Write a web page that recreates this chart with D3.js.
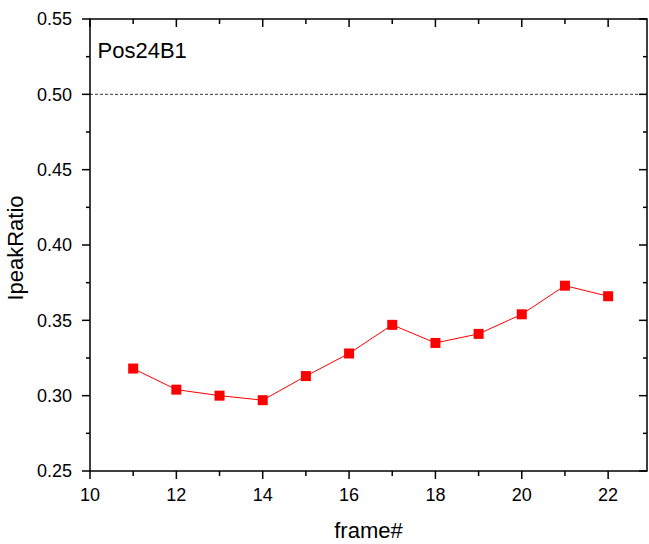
<!DOCTYPE html>
<html><head><meta charset="utf-8">
<script src="https://cdn.jsdelivr.net/npm/d3@7"></script>
<style>body{margin:0;background:#fff}svg{display:block}text{font-family:Arial,"Liberation Sans",sans-serif}</style>
</head><body>
<svg id="c" width="649" height="544"></svg>
<script>
const frames = [11,12,13,14,15,16,17,18,19,20,21,22];
const ratios = [0.318,0.304,0.300,0.297,0.313,0.328,0.347,0.335,0.341,0.354,0.373,0.366];
const xTicks = [10,12,14,16,18,20,22];
const yTicks = [0.25,0.30,0.35,0.40,0.45,0.50,0.55];
const refLine = 0.50;
const sampleLabel = "Pos24B1";

const svg = d3.select("#c");
const L=90, R=647, T=19, B=471;
const x = d3.scaleLinear().domain([10,22.9]).range([L,R]);
const y = d3.scaleLinear().domain([0.25,0.55]).range([B,T]);

const xMinor = d3.range(11,23,2);
const yMinor = d3.range(0.275,0.55,0.05);

const g = svg.append("g");
// frame
g.append("rect").attr("x",L).attr("y",T).attr("width",R-L).attr("height",B-T)
 .attr("fill","none").attr("stroke","#000").attr("stroke-width",1.5);

function ticks(sel, vals, len, orient){
  sel.selectAll(null).data(vals).enter().append("line")
   .attr("stroke","#000").attr("stroke-width",1.5)
   .each(function(d){
     const s=d3.select(this);
     if(orient==="bottom") s.attr("x1",x(d)).attr("x2",x(d)).attr("y1",B).attr("y2",B+len);
     if(orient==="top") s.attr("x1",x(d)).attr("x2",x(d)).attr("y1",T).attr("y2",T+len);
     if(orient==="left") s.attr("y1",y(d)).attr("y2",y(d)).attr("x1",L).attr("x2",L-len);
     if(orient==="right") s.attr("y1",y(d)).attr("y2",y(d)).attr("x1",R).attr("x2",R-len);
   });
}
ticks(g, xTicks, 8, "bottom"); ticks(g, xMinor, 5, "bottom");
ticks(g, xTicks, 8, "top"); ticks(g, xMinor, 5, "top");
ticks(g, yTicks, 8, "left"); ticks(g, yMinor, 4, "left");
ticks(g, yTicks, 8, "right"); ticks(g, yMinor, 4, "right");

g.selectAll(null).data(xTicks).enter().append("text")
 .attr("x",d=>x(d)).attr("y",500.5).attr("text-anchor","middle")
 .attr("font-size",18).text(d=>d);
g.selectAll(null).data(yTicks).enter().append("text")
 .attr("x",72).attr("y",d=>y(d)).attr("dy","0.35em").attr("text-anchor","end")
 .attr("font-size",18).text(d=>d.toFixed(2));

// reference line
g.append("line").attr("x1",L).attr("x2",R).attr("y1",y(refLine)).attr("y2",y(refLine))
 .attr("stroke","#000").attr("stroke-width",0.8).attr("stroke-dasharray","3,2");

// data
const pts = frames.map((f,i)=>[f,ratios[i]]);
g.append("path").attr("d",d3.line().x(d=>x(d[0])).y(d=>y(d[1]))(pts))
 .attr("fill","none").attr("stroke","#ff0000").attr("stroke-width",1);
g.selectAll(null).data(pts).enter().append("rect")
 .attr("x",d=>x(d[0])-5).attr("y",d=>y(d[1])-5).attr("width",10).attr("height",10)
 .attr("fill","#ff0000");

// labels
g.append("text").attr("x",97.5).attr("y",58.3).attr("font-size",22).text(sampleLabel);
g.append("text").attr("x",(L+R)/2).attr("y",537.5).attr("text-anchor","middle")
 .attr("font-size",22).text("frame#");
g.append("text").attr("transform",`translate(22.7,${(T+B)/2+3}) rotate(-90)`)
 .attr("text-anchor","middle").attr("font-size",22).text("IpeakRatio");
</script>
</body></html>
